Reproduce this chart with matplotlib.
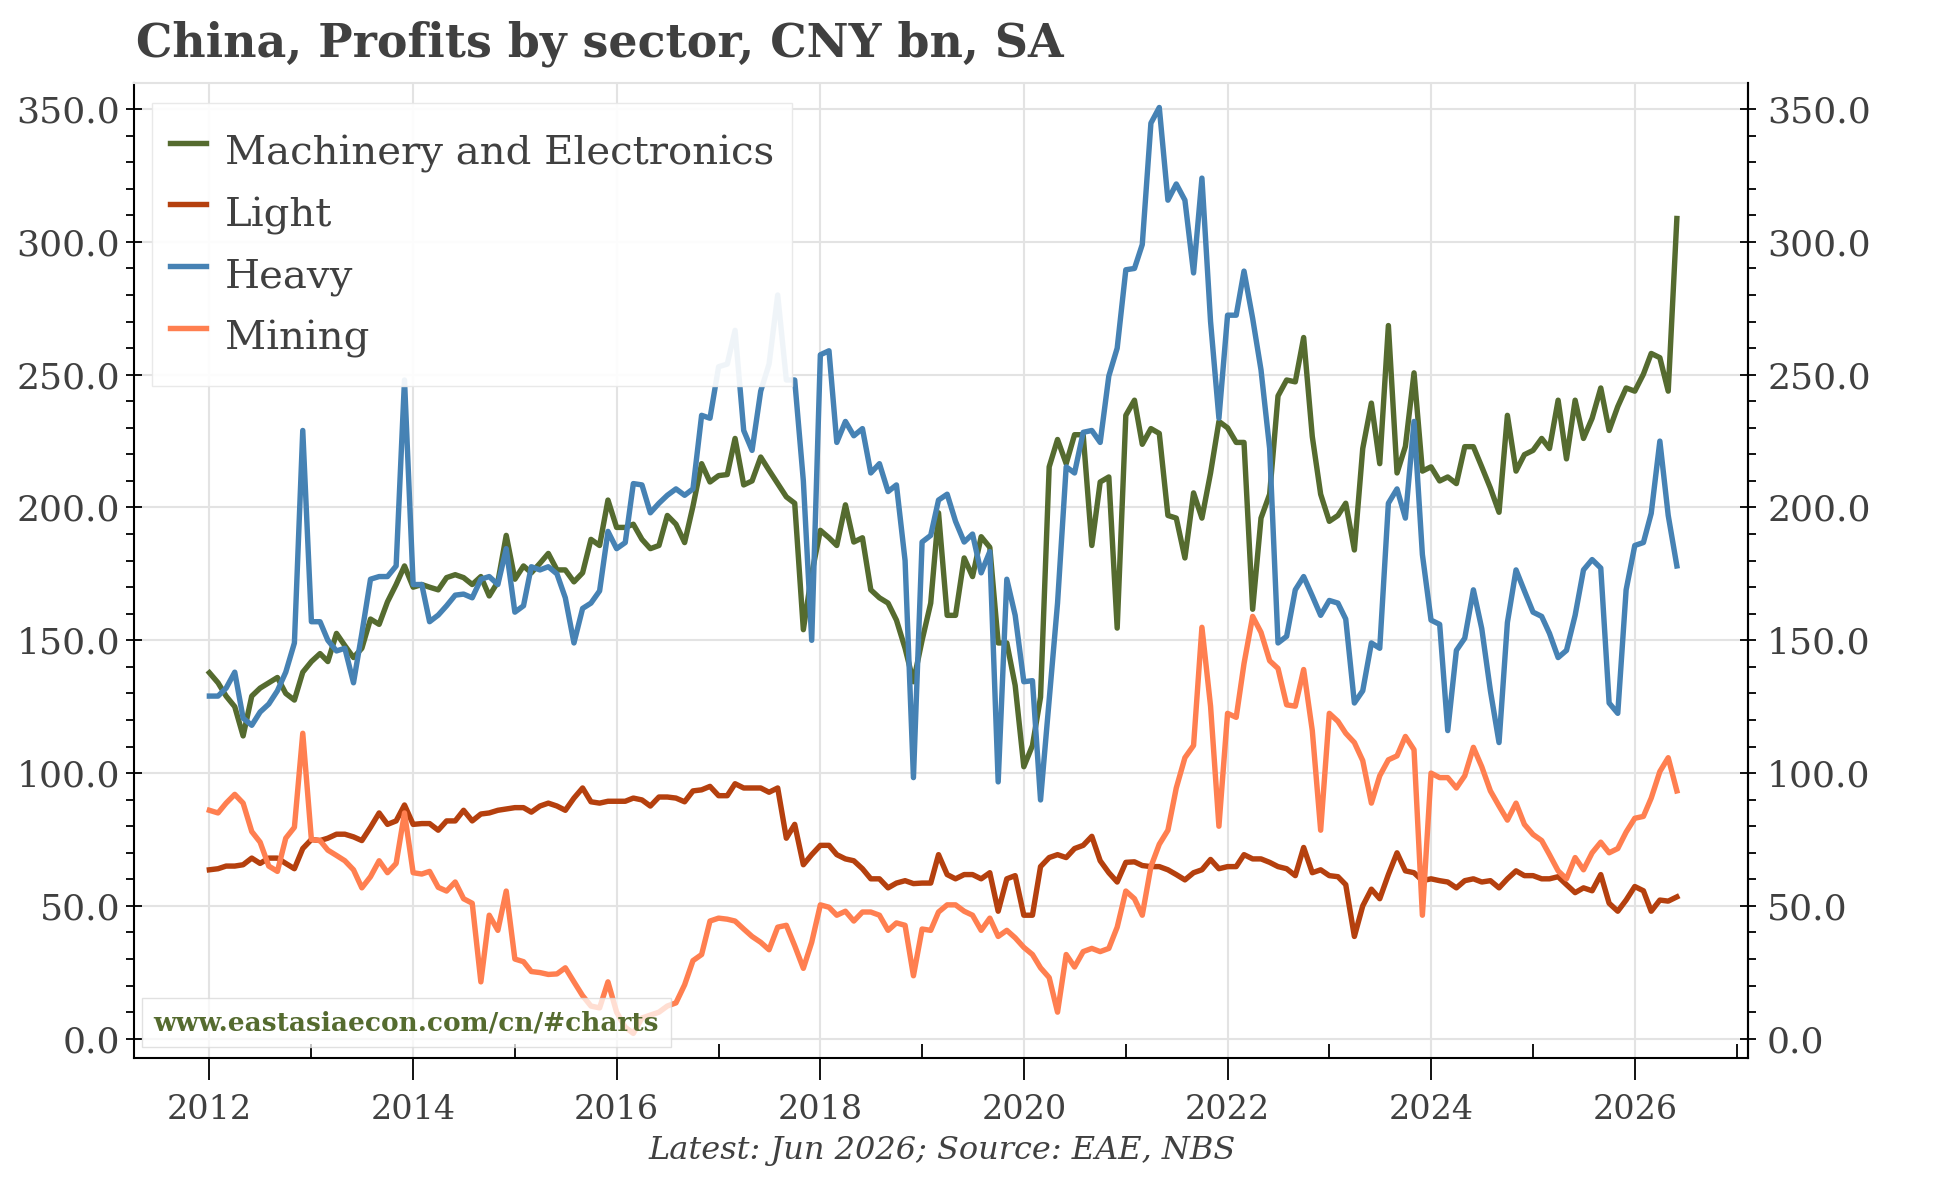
import matplotlib
matplotlib.use("Agg")
import matplotlib.pyplot as plt
import matplotlib.dates as mdates
import pandas as pd
from matplotlib.ticker import MultipleLocator, FormatStrFormatter

# monthly, Jan 2012 - Jun 2026
dates = pd.date_range("2012-01-01", periods=174, freq="MS")

machinery = [
    137.8, 134, 129, 125, 114, 129, 132, 134, 136, 130, 127.5, 138,
    142, 145, 142, 152.6, 148, 143.5, 147, 158, 156, 164.5, 171, 178,
    170, 171, 170, 169, 173.6, 174.7, 173.6, 171, 174, 166.7, 172, 189.5,
    173, 178, 175.4, 179, 182.7, 176.5, 176.5, 172, 175.4, 188, 185.7, 202.8,
    192.5, 192.5, 193.7, 188, 184.5, 185.7, 197, 193.7, 186.8, 200.5, 216.5, 209.6,
    212, 212.4, 226, 208.5, 210, 219, 214, 209, 204, 201.6, 154, 175,
    191.4, 188.6, 185.7, 201, 187, 188.6, 169, 166, 164, 157.6, 147, 134.4,
    150, 164, 198, 159.4, 159.4, 181, 174, 189, 185, 149, 149, 133,
    102.4, 110.4, 128.6, 215.3, 225.6, 216.5, 227.4, 227.4, 185.7, 209.6, 211.5, 154.6,
    234.7, 240.4, 223.8, 229.7, 227.9, 197, 196, 181, 205.5, 196, 213, 232.4,
    230, 224.5, 224.5, 161.7, 196, 205, 242, 248, 247.3, 264, 226.7, 205,
    194.8, 197, 201.6, 184, 222.2, 239.3, 216.5, 268.5, 213, 223, 250.7, 213.7,
    215.3, 210, 211.5, 209, 222.9, 222.9, 215.3, 207.3, 198.2, 234.7, 213.7, 219.9,
    221.5, 226, 222.2, 240.4, 218.3, 240.4, 226, 233.6, 245, 229, 238, 245,
    243.8, 250.2, 258, 256.4, 243.8, 308.8,
]

light = [
    63.6, 64, 65, 65, 65.5, 68, 66, 68, 68, 66, 64, 71.6,
    75, 74.6, 75.5, 77, 77, 76, 74.6, 79.6, 85, 80.7, 82, 88,
    80.7, 81, 81, 78.5, 82, 82, 86, 82, 84.6, 85, 86, 86.5,
    87, 87, 85.3, 87.6, 88.7, 87.6, 86, 90.6, 94.4, 89.2, 88.7, 89.4,
    89.4, 89.4, 90.6, 89.9, 87.6, 91, 91, 90.6, 89.2, 93.3, 93.7, 95,
    91.5, 91.5, 96, 94.4, 94.4, 94.4, 92.8, 94.4, 75.5, 80.7, 65.5, 69.3,
    72.8, 72.8, 69.3, 67.7, 67, 64, 60.2, 60.2, 56.8, 58.6, 59.5, 58.4,
    58.6, 58.6, 69.3, 61.8, 60.2, 61.8, 61.8, 60.2, 62.5, 48, 60.2, 61.4,
    46.5, 46.5, 64.8, 68.2, 69.3, 68.2, 71.6, 72.8, 76.2, 67, 62.5, 59,
    66.4, 66.6, 65.2, 64.8, 64.8, 63.6, 61.8, 59.8, 62.5, 63.6, 67.5, 64,
    64.8, 64.8, 69.3, 67.7, 67.7, 66.4, 64.8, 64, 61.4, 72, 62.5, 63.6,
    61.4, 61, 58, 38.5, 50, 56.3, 52.7, 61.8, 70, 63.2, 62.5, 59.5,
    60.2, 59.5, 59, 56.8, 59.5, 60.2, 59, 59.5, 56.8, 60.2, 63.2, 61.4,
    61.4, 60.2, 60.2, 61, 58, 55, 56.8, 55.7, 61.8, 51, 48, 52.2,
    57.3, 55.7, 48, 52.2, 51.8, 53.4,
]

heavy = [
    129, 129, 132, 138, 120.7, 118, 123, 126, 131, 138, 149, 229,
    157, 157, 150, 146, 147, 134, 152.6, 173, 174, 174, 178, 248,
    171, 171, 157, 159.5, 163, 167, 167.4, 166, 173, 174, 171, 184.5,
    160.6, 163, 177.7, 176.5, 177.7, 175, 166, 149, 162, 164, 168.6, 191,
    184.5, 186.8, 209, 208.5, 198, 201.6, 204.6, 207, 204.6, 207, 234.7, 233.6,
    253, 254, 266.7, 229, 221.5, 243.8, 254, 280, 248, 248, 210, 150,
    257.5, 259, 224.5, 232.4, 227, 229.7, 213, 216.5, 206, 208.5, 180, 98.3,
    187, 189.5, 202.8, 205, 194.8, 187, 190, 175.4, 183.4, 96.7, 173, 159.4,
    134.4, 134.8, 89.9, 127.5, 164, 215.3, 213, 228.3, 229, 224.5, 249.5, 260,
    289.5, 290, 299, 344.7, 350.6, 315.7, 321.8, 315.7, 288.3, 324, 270, 233.6,
    272.4, 272.4, 289, 271.2, 251.8, 222.2, 149, 151.5, 169, 174, 166.7, 159.4,
    165, 164, 158, 126.4, 131, 149, 147, 201.6, 207, 196, 232.4, 182.3,
    157.6, 156, 116, 146.2, 150.8, 169, 154.4, 131, 111.5, 156.7, 176.5, 168.6,
    160.6, 159, 152.6, 143.5, 146.2, 159.4, 176.5, 180.4, 177.2, 126.4, 122.5, 169,
    185.7, 186.8, 197.8, 225, 197, 178,
]

mining = [
    86, 85, 88.7, 92, 88.7, 78, 74, 65, 63, 75.5, 79.6, 115,
    75, 74.6, 71, 69, 67, 63.6, 56.8, 61, 67, 62.5, 66, 85,
    62.5, 62, 63, 57, 55.6, 59, 52.7, 51, 21.4, 46.5, 40.8, 55.6,
    30, 29, 25.3, 24.9, 24.2, 24.4, 26.7, 21.4, 16.2, 12.3, 11.6, 21.4,
    10, 4.3, 2, 7.8, 8.9, 10, 12.3, 13.5, 20.3, 29.4, 31.7, 44.3,
    45.4, 45, 44.3, 41.3, 38.5, 36.3, 33.5, 42, 42.7, 35, 26.5, 36.3,
    50.4, 49.5, 46.5, 48, 44.3, 47.7, 47.7, 46.5, 40.8, 43.6, 42.7, 23.7,
    41.3, 40.8, 47.7, 50.4, 50.4, 48, 46.5, 40.8, 45.4, 38.5, 40.8, 38,
    34.4, 31.7, 26.7, 23, 10, 31.7, 27, 32.8, 34, 32.8, 34, 42,
    55.6, 52.7, 46.5, 64.8, 73.2, 78.5, 94.4, 105.8, 110.4, 154.9, 125.2, 80,
    122.5, 121, 141.2, 159, 153, 142.3, 139.4, 125.7, 125.2, 139, 116, 78.5,
    122.5, 119.5, 115, 111.5, 104.7, 88.7, 99, 105, 106.5, 113.8, 108.8, 46.5,
    100, 98.3, 98.3, 94.4, 99, 109.7, 102.4, 93.3, 87.6, 82.3, 88.7, 80.7,
    76.9, 74.6, 69.3, 63.2, 60.2, 68.2, 63.6, 70, 74, 70, 71.6, 77.8,
    83, 83.7, 90.6, 100.6, 105.8, 93.3,
]

names = ["Machinery and Electronics", "Light", "Heavy", "Mining"]
colors = ["#556b2f", "#b5400e", "#4682b4", "#ff7f50"]

txt = "#404040"
plt.rcParams["font.family"] = ["DejaVu Serif"]
plt.rcParams["text.color"] = txt
plt.rcParams["xtick.color"] = "black"
plt.rcParams["ytick.color"] = "black"
plt.rcParams["xtick.labelcolor"] = txt
plt.rcParams["ytick.labelcolor"] = txt

fig = plt.figure(figsize=(19.44, 11.78), dpi=100)
ax = fig.add_axes([0.069, 0.102, 0.830, 0.8275])

for name, ys, c in zip(names, [machinery, light, heavy, mining], colors):
    ax.plot(dates, ys, color=c, lw=3.9, label=name)

ax.set_xlim(pd.Timestamp("2011-04-06"), pd.Timestamp("2027-02-10"))
ax.set_ylim(-7.2, 359.8)

ax.xaxis.set_major_locator(mdates.YearLocator(2))
ax.xaxis.set_minor_locator(mdates.YearLocator(1))
ax.xaxis.set_major_formatter(mdates.DateFormatter("%Y"))
ax.yaxis.set_major_locator(MultipleLocator(50))
ax.yaxis.set_minor_locator(MultipleLocator(10))
ax.yaxis.set_major_formatter(FormatStrFormatter("%.1f"))

ax.grid(True, which="major", color="#e3e3e3", lw=1.5)
ax.set_axisbelow(True)
for s in ["left", "bottom", "right"]:
    ax.spines[s].set_color("black")
    ax.spines[s].set_linewidth(1.5)
ax.spines["top"].set_color("#e3e3e3")
ax.spines["top"].set_linewidth(1.5)

ax.tick_params(axis="x", which="major", direction="out", length=16, width=1.3, labelsize=24, pad=10)
ax.tick_params(axis="x", which="minor", direction="in", length=10, width=1.3)
ax.tick_params(axis="y", which="major", direction="inout", length=12, width=1.3, labelsize=26, pad=4)
ax.tick_params(axis="y", which="minor", direction="out", length=6, width=1.3)

ax2 = ax.twinx()
ax2.set_ylim(ax.get_ylim())
ax2.yaxis.set_major_locator(MultipleLocator(50))
ax2.yaxis.set_minor_locator(MultipleLocator(10))
ax2.yaxis.set_major_formatter(FormatStrFormatter("%.1f"))
ax2.tick_params(axis="y", which="major", direction="inout", length=12, width=1.3, labelsize=26, pad=8)
ax2.tick_params(axis="y", which="minor", direction="out", length=6, width=1.3)
for s in ["top", "left", "bottom"]:
    ax2.spines[s].set_visible(False)
ax2.spines["right"].set_linewidth(1.5)

leg = ax.legend(loc="upper left", bbox_to_anchor=(0.011, 0.98), borderaxespad=0,
                fontsize=29, frameon=True, fancybox=False, framealpha=0.92,
                edgecolor="#e8e8e8", handlelength=0.9, handletextpad=0.46,
                handleheight=1.98, labelspacing=0.0, borderpad=0.45)
for t in leg.get_texts():
    t.set_color(txt)

ax.text(0.012, 0.036, "www.eastasiaecon.com/cn/#charts", transform=ax.transAxes,
        fontsize=19, fontweight="bold", color="#556b2f", va="center", ha="left",
        bbox=dict(facecolor="white", alpha=0.75, edgecolor="#d8d8d8", boxstyle="square,pad=0.45"))

fig.text(0.07, 0.963, "China, Profits by sector, CNY bn, SA", fontsize=33,
         fontweight="bold", color=txt, ha="left", va="center")
fig.text(0.4846, 0.023, "Latest: Jun 2026; Source: EAE, NBS", fontsize=23,
         style="italic", color=txt, ha="center", va="center")

fig.savefig("out.png", dpi=100)
